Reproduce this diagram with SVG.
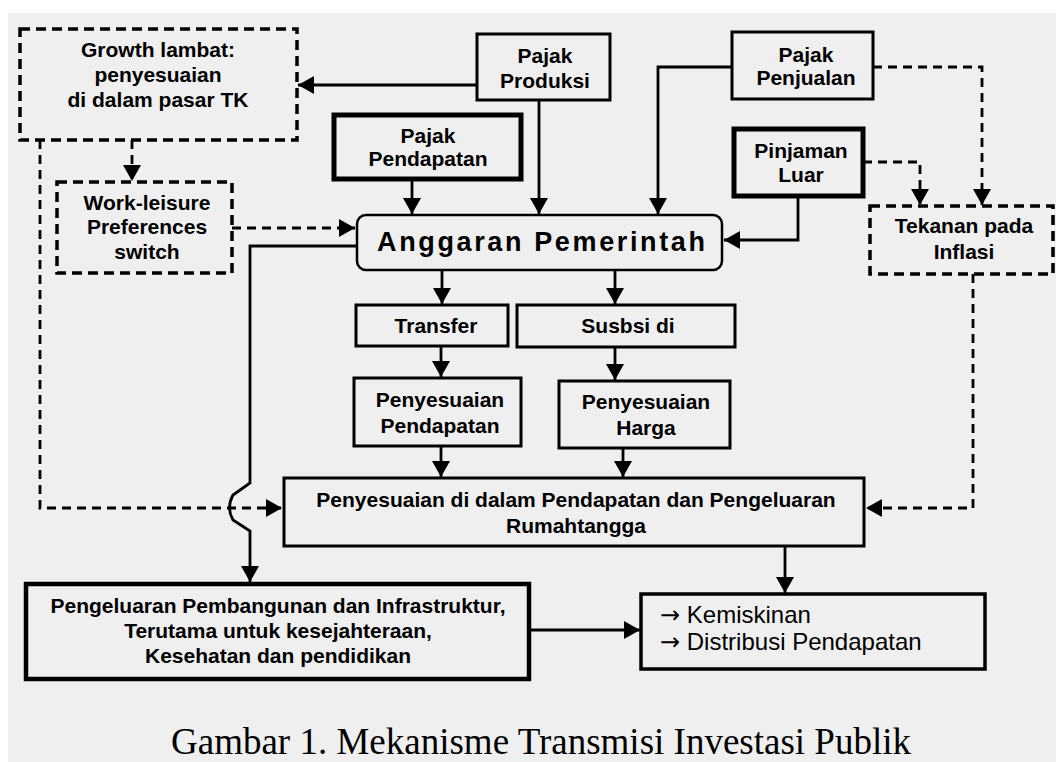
<svg xmlns="http://www.w3.org/2000/svg" width="1056" height="762" viewBox="0 0 1056 762">
<defs>
<style>
.t{font-family:"Liberation Sans",Arial,sans-serif;font-weight:bold;font-size:21px;fill:#000;text-anchor:middle}
.n{font-family:"Liberation Sans",Arial,sans-serif;font-size:24px;fill:#000}
.ar{font-family:"DejaVu Sans",sans-serif;font-size:24px}
.box{fill:none;stroke:#000;stroke-width:3}
.thick{fill:none;stroke:#000;stroke-width:5}
.dbox{fill:none;stroke:#000;stroke-width:3.5;stroke-dasharray:10 6}
.c{fill:none;stroke:#000;stroke-width:2.8}
.d{fill:none;stroke:#000;stroke-width:2.8;stroke-dasharray:9 6}
</style>
<marker id="ah" markerUnits="userSpaceOnUse" markerWidth="18" markerHeight="18" refX="16" refY="9" orient="auto">
<path d="M0,0 L16,9 L0,18 z" fill="#000"/>
</marker>
</defs>
<rect x="0" y="0" width="1056" height="762" fill="#ffffff"/>
<rect x="8" y="13" width="1048" height="749" fill="#efefef"/>

<g id="connectors">
<path class="c" d="M478,85 L298,85" marker-end="url(#ah)"/>
<path class="d" d="M132,140 L132,181" marker-end="url(#ah)"/>
<path class="d" d="M40,140 L40,508 L282,508" marker-end="url(#ah)"/>
<path class="d" d="M232,228 L355,228" marker-end="url(#ah)"/>
<path class="c" d="M412,180 L412,214" marker-end="url(#ah)"/>
<path class="c" d="M539,100 L539,214" marker-end="url(#ah)"/>
<path class="c" d="M732,67 L658,67 L658,214" marker-end="url(#ah)"/>
<path class="d" d="M873,67 L982,67 L982,205" marker-end="url(#ah)"/>
<path class="d" d="M863,162 L920,162 L920,205" marker-end="url(#ah)"/>
<path class="c" d="M798,196 L798,240 L724,240" marker-end="url(#ah)"/>
<path class="d" d="M973,274 L973,508 L866,508" marker-end="url(#ah)"/>
<path class="c" d="M442,270 L442,304" marker-end="url(#ah)"/>
<path class="c" d="M615,270 L615,304" marker-end="url(#ah)"/>
<path class="c" d="M441,346 L441,377" marker-end="url(#ah)"/>
<path class="c" d="M615,347 L615,380" marker-end="url(#ah)"/>
<path class="c" d="M441,446 L441,477" marker-end="url(#ah)"/>
<path class="c" d="M623,448 L623,477" marker-end="url(#ah)"/>
<path class="c" d="M356,246 L250,246 L250,483 L233,495 Q226,508 233,520 L250,531 L250,582" marker-end="url(#ah)"/>
<path class="c" d="M785,546 L785,593" marker-end="url(#ah)"/>
<path class="c" d="M530,630 L640,630" marker-end="url(#ah)"/>
</g>

<g id="growth">
<rect class="dbox" x="20" y="29" width="277" height="111"/>
<text class="t" x="158" y="57">Growth lambat:</text>
<text class="t" x="158" y="82">penyesuaian</text>
<text class="t" x="158" y="107">di dalam pasar TK</text>
</g>

<g id="workleisure">
<rect class="dbox" x="57" y="182" width="175" height="91"/>
<text class="t" x="147" y="210">Work-leisure</text>
<text class="t" x="147" y="234">Preferences</text>
<text class="t" x="147" y="259">switch</text>
</g>

<g id="pajakproduksi">
<rect class="box" x="477" y="34" width="133" height="66"/>
<text class="t" x="545" y="63">Pajak</text>
<text class="t" x="545" y="88">Produksi</text>
</g>

<g id="pajakpendapatan">
<rect class="thick" x="334" y="115" width="187" height="64"/>
<text class="t" x="428" y="143">Pajak</text>
<text class="t" x="428" y="166">Pendapatan</text>
</g>

<g id="pajakpenjualan">
<rect class="box" x="732" y="32" width="141" height="67"/>
<text class="t" x="806" y="62">Pajak</text>
<text class="t" x="806" y="85">Penjualan</text>
</g>

<g id="pinjaman">
<rect class="thick" x="734" y="129" width="129" height="67"/>
<text class="t" x="801" y="158">Pinjaman</text>
<text class="t" x="801" y="182">Luar</text>
</g>

<g id="tekanan">
<rect class="dbox" x="870" y="206" width="183" height="68"/>
<text class="t" x="964" y="233">Tekanan pada</text>
<text class="t" x="964" y="259">Inflasi</text>
</g>

<g id="anggaran">
<rect x="357" y="215" width="365" height="55" rx="9" ry="9" fill="none" stroke="#000" stroke-width="2.5"/>
<text class="t" x="541" y="251" style="font-size:27px" textLength="328" lengthAdjust="spacing">Anggaran  Pemerintah</text>
</g>

<g id="transfer">
<rect class="box" x="356" y="305" width="152" height="41"/>
<text class="t" x="436" y="333">Transfer</text>
</g>

<g id="subsidi">
<rect class="box" x="517" y="305" width="218" height="42"/>
<text class="t" x="628" y="333">Susbsi di</text>
</g>

<g id="penypendapatan">
<rect class="box" x="354" y="378" width="167" height="68"/>
<text class="t" x="440" y="407">Penyesuaian</text>
<text class="t" x="440" y="433">Pendapatan</text>
</g>

<g id="penyharga">
<rect class="box" x="559" y="381" width="171" height="67"/>
<text class="t" x="646" y="409">Penyesuaian</text>
<text class="t" x="646" y="435">Harga</text>
</g>

<g id="penyrumahtangga">
<rect class="box" x="284" y="478" width="580" height="68"/>
<text class="t" x="576" y="507">Penyesuaian di dalam Pendapatan dan Pengeluaran</text>
<text class="t" x="576" y="533">Rumahtangga</text>
</g>

<g id="pengeluaran">
<rect x="26" y="584" width="503" height="95" fill="none" stroke="#000" stroke-width="4.5"/>
<text class="t" x="278" y="613">Pengeluaran Pembangunan dan Infrastruktur,</text>
<text class="t" x="278" y="638">Terutama untuk kesejahteraan,</text>
<text class="t" x="278" y="663">Kesehatan dan pendidikan</text>
</g>

<g id="kemiskinan">
<rect x="641" y="594" width="344" height="75" fill="none" stroke="#000" stroke-width="3.5"/>
<text class="n" x="660" y="623"><tspan class="ar">→</tspan> Kemiskinan</text>
<text class="n" x="660" y="650"><tspan class="ar">→</tspan> Distribusi Pendapatan</text>
</g>

<text x="541" y="754" style="font-family:'Liberation Serif','Times New Roman',serif;font-size:37px;text-anchor:middle;fill:#000">Gambar 1. Mekanisme Transmisi Investasi Publik</text>
</svg>
